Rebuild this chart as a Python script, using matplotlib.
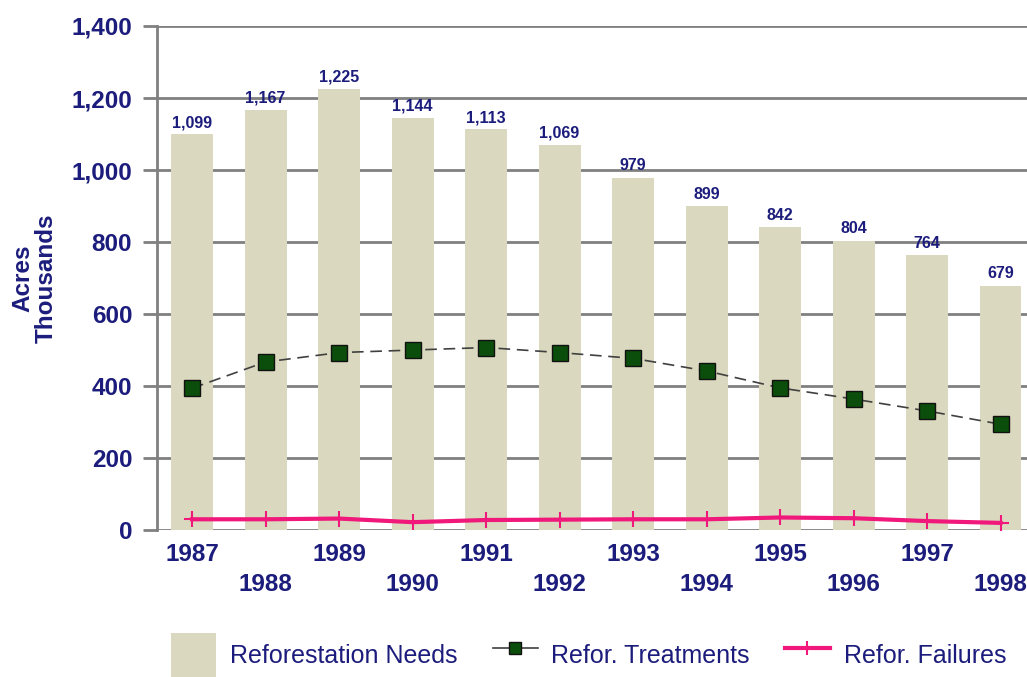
import matplotlib
matplotlib.use("Agg")
import matplotlib.pyplot as plt
from matplotlib.patches import Patch
from matplotlib.lines import Line2D

years = ["1987", "1988", "1989", "1990", "1991", "1992",
         "1993", "1994", "1995", "1996", "1997", "1998"]
needs = [1099, 1167, 1225, 1144, 1113, 1069, 979, 899, 842, 804, 764, 679]
treatments = [394, 467, 493, 500, 507, 493, 477, 442, 395, 364, 331, 294]
failures = [30, 30, 32, 22, 28, 29, 30, 30, 35, 33, 25, 20]
yticks = [0, 200, 400, 600, 800, 1000, 1200, 1400]

navy = "#1c1c7c"
bar_color = "#dad9bf"
plt.rcParams['font.family'] = ['Liberation Sans', 'DejaVu Sans']

fig = plt.figure(figsize=(10.27, 6.77), dpi=100)
ax = fig.add_axes([0.153, 0.217, 0.847, 0.7446])

x = list(range(len(years)))
ax.bar(x, needs, width=0.57, color=bar_color, zorder=2)
for xi, v in zip(x, needs):
    ax.text(xi, v + 12, f"{v:,}", ha="center", va="bottom", fontsize=11.5,
            color=navy, fontweight="bold", zorder=5)

ax.plot(x, treatments, linestyle=(0, (7, 4)), color="#404040", linewidth=1.2,
        marker="s", markersize=11, markerfacecolor="#0b4d0b",
        markeredgecolor="#111111", markeredgewidth=1.0, zorder=4)
ax.plot(x, failures, color="#f0187a", linewidth=3, marker="+",
        markersize=12, markeredgewidth=1.5, zorder=4)

ax.set_ylim(0, 1400)
ax.set_xlim(-0.476, 11.36)
ax.set_yticks(yticks)
ax.set_yticklabels([f"{t:,}" for t in yticks], fontsize=17.5, fontweight="bold",
                   color=navy)
ax.yaxis.grid(True, color="#808080", linewidth=2, zorder=1)
ax.set_axisbelow(True)
ax.tick_params(axis="y", length=10, width=2, color="#808080", pad=8)

ax.set_xticks(x)
ax.set_xticklabels(years, fontsize=17.5, fontweight="bold", color=navy)
ax.tick_params(axis="x", length=0)
for i, tick in enumerate(ax.xaxis.get_major_ticks()):
    tick.set_pad(9 if i % 2 == 0 else 31)

for s in ["top", "right", "bottom"]:
    ax.spines[s].set_visible(False)
ax.spines["left"].set_color("#808080")
ax.spines["left"].set_linewidth(2)

ax.set_ylabel("Acres\nThousands", fontsize=17.5, fontweight="bold", color=navy,
              labelpad=10, linespacing=1.0)

handles = [
    Patch(facecolor=bar_color, edgecolor="none"),
    Line2D([], [], linestyle="-", color="#404040", linewidth=1.2, marker="s",
           markersize=8, markerfacecolor="#0b4d0b", markeredgecolor="#111111"),
    Line2D([], [], color="#f0187a", linewidth=3, marker="+", markersize=10,
           markeredgewidth=1.5),
]
fig.legend(handles, ["Reforestation Needs", "Refor. Treatments", "Refor. Failures"],
           loc="lower left", bbox_to_anchor=(0.145, -0.035), ncol=3,
           frameon=False, fontsize=18, labelcolor=navy,
           handlelength=1.8, handleheight=2.4, handletextpad=0.55,
           columnspacing=1.4)

fig.savefig("out.png", dpi=100)
